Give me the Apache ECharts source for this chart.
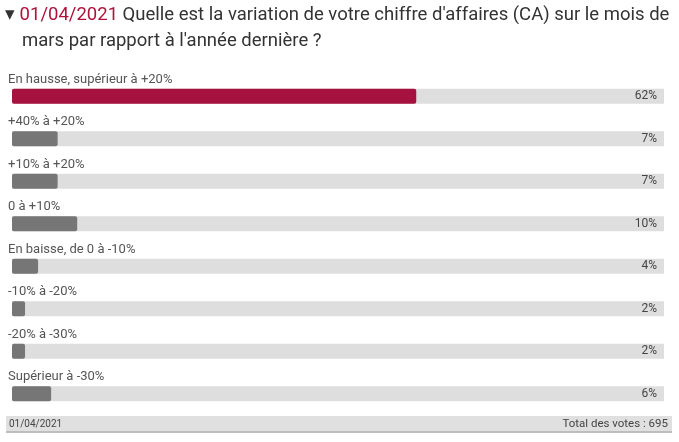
<!DOCTYPE html>
<html>
<head>
<meta charset="utf-8">
<script src="https://cdn.jsdelivr.net/npm/echarts@6/dist/echarts.min.js"></script>
<style>
  html, body { margin: 0; padding: 0; background: #fff; }
  #chart { width: 679px; height: 442px; }
</style>
</head>
<body>
<div id="chart"></div>
<script>
// réponses du sondage (ordre d'affichage)
var categories = [
    'En hausse, supérieur à +20%',
    '+40% à +20%',
    '+10% à +20%',
    '0 à +10%',
    'En baisse, de 0 à -10%',
    '-10% à -20%',
    '-20% à -30%',
    'Supérieur à -30%'
];
var values = [62, 7, 7, 10, 4, 2, 2, 6]; // pourcentages
var dateSondage = '01/04/2021';
var question1 = " Quelle est la variation de votre chiffre d'affaires (CA) sur le mois de";
var question2 = "mars par rapport à l'année dernière ?";
var totalVotes = 'Total des votes : 695';

var track = categories.map(function () { return 100; });
var fontFamily = 'Roboto, "Noto Sans", sans-serif';

var option = {
    animation: false,
    textStyle: { fontFamily: fontFamily },
    grid: { left: 12, right: 15, top: 75, bottom: 27 },
    xAxis: { type: 'value', min: 0, max: 100, show: false },
    yAxis: {
        type: 'category',
        data: categories,
        inverse: true,
        show: false
    },
    series: [
        { // fond gris + pourcentage à droite
            type: 'bar',
            data: track,
            barWidth: 15,
            barGap: '-100%',
            silent: true,
            z: 1,
            itemStyle: { color: '#dedede' },
            label: {
                show: true,
                position: 'insideRight',
                distance: 7,
                fontSize: 12,
                color: '#444',
                formatter: function (p) { return values[p.dataIndex] + '%'; }
            }
        },
        {
            type: 'bar',
            data: values.map(function (v, i) {
                return {
                    value: v,
                    itemStyle: { color: i == 0 ? '#a5123f' : '#767676' }
                };
            }),
            barWidth: 15,
            z: 2,
            itemStyle: { borderRadius: 2 },
            label: {
                show: true,
                position: [-4, -16],
                fontSize: 13,
                color: '#555',
                formatter: function (p) { return categories[p.dataIndex]; }
            }
        }
    ],
    graphic: [
        {
            type: 'text', left: 5, top: 6,
            style: {
                text: '▾ {d|' + dateSondage + '}' + question1,
                fontSize: 18.5, fill: '#333', fontFamily: fontFamily,
                rich: { d: { fontSize: 18.5, fill: '#b0103a', fontFamily: fontFamily } }
            }
        },
        {
            type: 'text', left: 22, top: 32,
            style: { text: question2, fontSize: 18.5, fill: '#333', fontFamily: fontFamily }
        },
        {
            type: 'rect', shape: { x: 6, y: 416, width: 666, height: 16 },
            style: { fill: '#e0e0e0' }
        },
        {
            type: 'rect', shape: { x: 6, y: 431, width: 666, height: 2 },
            style: { fill: '#bdbdbd' }
        },
        {
            type: 'text', left: 9, top: 419,
            style: { text: dateSondage, fontSize: 10, fill: '#444', fontFamily: fontFamily }
        },
        {
            type: 'text', right: 11, top: 418,
            style: { text: totalVotes, fontSize: 11.5, fill: '#444', fontFamily: fontFamily }
        }
    ]
};

var chart = echarts.init(document.getElementById('chart'));
chart.setOption(option, true);
</script>
</body>
</html>
